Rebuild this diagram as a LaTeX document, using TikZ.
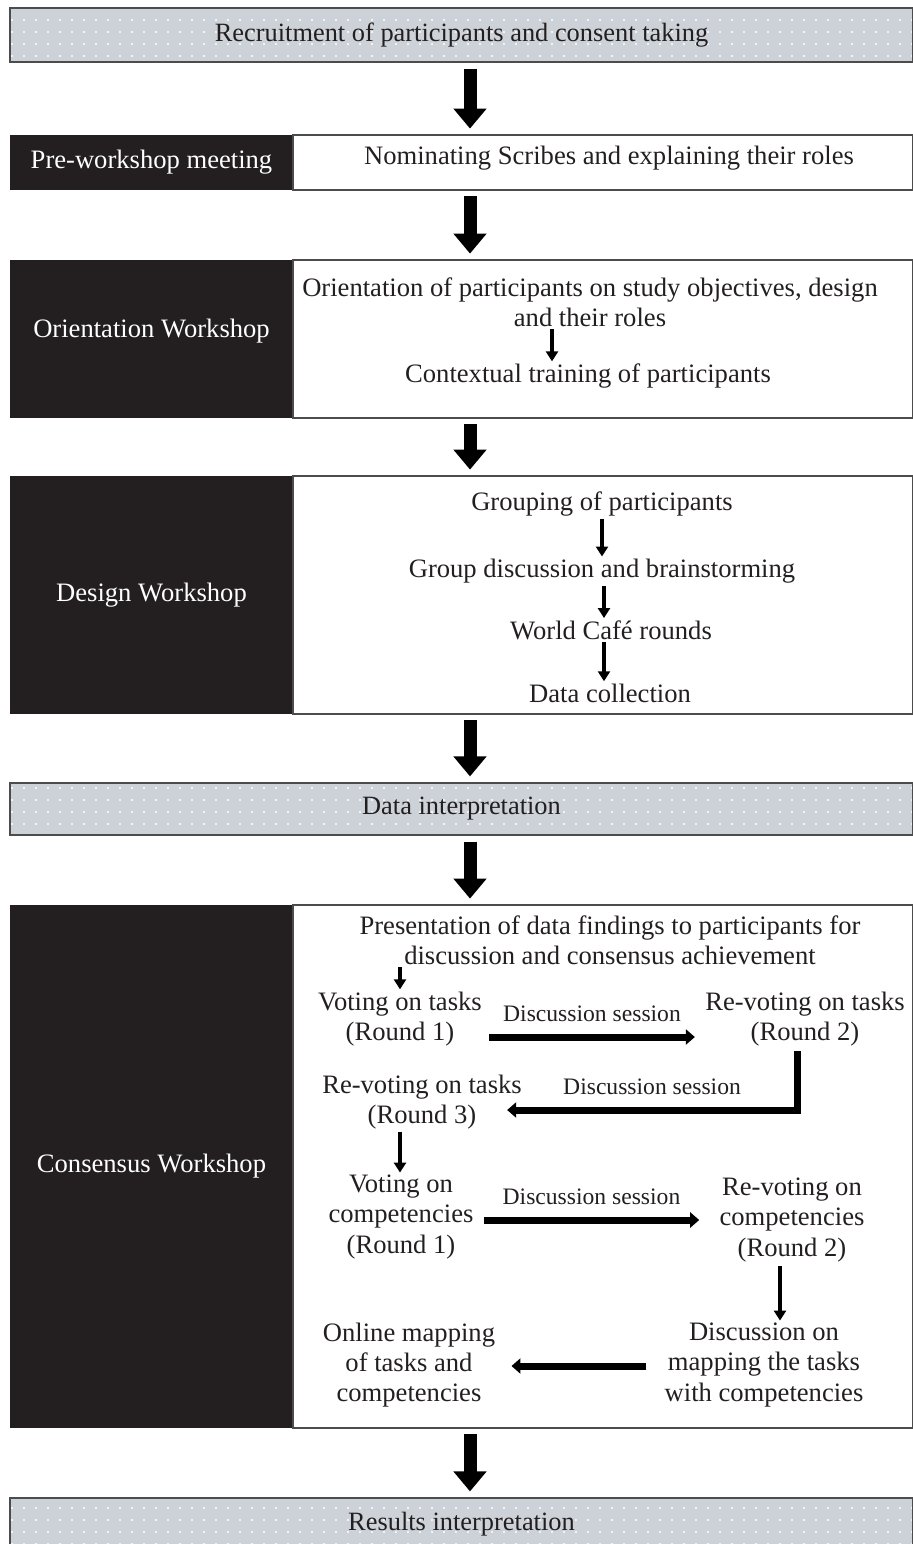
\documentclass[tikz,border=0pt]{standalone}
\usepackage{fontspec}
\setmainfont{Liberation Serif}
\usetikzlibrary{positioning,calc,arrows.meta,patterns.meta}
\definecolor{bannergray}{RGB}{204,210,216}
\definecolor{inkblack}{RGB}{35,31,32}

\begin{document}
\begin{tikzpicture}[x=0.5pt,y=-0.5pt,
    txt/.style={font=\fontsize{13.3}{15.2}\selectfont, text=inkblack, align=center, inner sep=1pt},
    small/.style={font=\fontsize{11.8}{13}\selectfont, text=inkblack, inner sep=1pt},
    banner/.style={draw=black!70, line width=0.6pt, preaction={fill=bannergray},
      pattern={Dots[distance=6pt,radius=0.55pt]}, pattern color=white,
      minimum width=451.5pt, font=\fontsize{13.2}{15}\selectfont, text=inkblack},
    stage/.style={fill=inkblack, text=white, minimum width=141.5pt, inner sep=0pt,
      font=\fontsize{13.3}{15}\selectfont},
    detail/.style={draw=black!70, line width=0.6pt, minimum width=310pt, inner sep=0pt},
    bigarrow/.style={line width=6.5pt, -{Triangle[width=16pt,length=10pt]},
      shorten <=3pt, shorten >=3pt},
    downarrow/.style={line width=2pt, -{Triangle[width=6pt,length=5pt]}},
    sidearrow/.style={line width=3.5pt, -{Triangle[width=7.5pt,length=4.5pt]}}]
    \useasboundingbox (0,0) rectangle (913,1544);
    % Main stages
    \node[banner, minimum height=27pt] (recruit) at (461.5,35)
      {Recruitment of participants and consent taking};
    \node[stage, minimum height=27.5pt] (preL) at (151.5,162.5) {Pre-workshop meeting};
    \node[detail, minimum height=27.5pt] (preR) at (603,162.5) {};
    \node[stage, minimum height=79pt] (oriL) at (151.5,339) {};
    \node[stage] (oriT) at (151.5,331) {Orientation Workshop};
    \node[detail, minimum height=79pt] (oriR) at (603,339) {};
    \node[stage, minimum height=119pt] (desL) at (151.5,595) {Design Workshop};
    \node[detail, minimum height=119pt] (desR) at (603,595) {};
    \node[banner, minimum height=26pt] (interp) at (461.5,809) {Data interpretation};
    \node[stage, minimum height=261.5pt] (conL) at (151.5,1166.5) {Consensus Workshop};
    \node[detail, minimum height=261.5pt] (conR) at (603,1166.5) {};
    \node[banner, minimum height=26pt] (results) at (461.5,1524) {Results interpretation};
    % Arrows between stages
    \coordinate (ax) at (470,0);
    \draw[bigarrow] (recruit.south -| ax) -- (preL.north -| ax);
    \draw[bigarrow] (preL.south -| ax) -- (oriL.north -| ax);
    \draw[bigarrow] (oriL.south -| ax) -- (desL.north -| ax);
    \draw[bigarrow] (desL.south -| ax) -- (interp.north -| ax);
    \draw[bigarrow] (interp.south -| ax) -- (conL.north -| ax);
    \draw[bigarrow] (conL.south -| ax) -- (results.north -| ax);
    % Pre-workshop and orientation
    \node[txt] (p1) at (609,158) {Nominating Scribes and explaining their roles};
    \node[txt] (o1) at (590,302)
      {Orientation of participants on study objectives, design\\and their roles};
    \node[txt] (o2) at (588,376) {Contextual training of participants};
    \draw[downarrow] ($(o1.south)+(-38,0)$) -- ($(o2.north)+(-36,0)$);
    % Design workshop
    \node[txt] (d1) at (602,504) {Grouping of participants};
    \node[txt] (d2) at (602,571) {Group discussion and brainstorming};
    \node[txt] (d3) at (611,630) {World Café rounds};
    \node[txt] (d4) at (610,693) {Data collection};
    \draw[downarrow] ($(d1.south)+(0,0)$) -- ($(d2.north)+(0,0)$);
    \draw[downarrow] ($(d2.south)+(2,0)$) -- ($(d3.north)+(-7,0)$);
    \draw[downarrow] ($(d3.south)+(-7,0)$) -- ($(d4.north)+(-6,0)$);
    % Consensus workshop
    \node[txt] (c1) at (610,940)
      {Presentation of data findings to participants for\\discussion and consensus achievement};
    \node[txt] (c2) at (400,1019) {Voting on tasks\\(Round 1)};
    \node[txt] (c3) at (805,1019) {Re-voting on tasks\\(Round 2)};
    \node[txt] (c4) at (422,1102) {Re-voting on tasks\\(Round 3)};
    \node[txt] (c5) at (401,1217) {Voting on\\competencies\\(Round 1)};
    \node[txt] (c6) at (792,1220) {Re-voting on\\competencies\\(Round 2)};
    \node[txt] (c7) at (764,1365) {Discussion on\\mapping the tasks\\with competencies};
    \node[txt] (c8) at (409,1365) {Online mapping\\of tasks and\\competencies};
    \draw[downarrow] ($(c1.south -| c2.north)$) -- (c2.north);
    \draw[sidearrow] ($(c2.east)+(5,18)$) -- ($(c3.west)+(-8,18)$)
      node[small, midway, above=5pt] {Discussion session};
    \draw[sidearrow] ($(c3.south)+(-8,2)$) |- ($(c4.east)+(-17,8)$)
      node[small, pos=0.75, above=5pt] {Discussion session};
    \draw[downarrow] ($(c4.south)+(-22,0)$) -- ($(c5.north)+(-1,0)$);
    \draw[sidearrow] ($(c5.east)+(8,3)$) -- ($(c6.west)+(-18,0)$)
      node[small, midway, above=5pt] {Discussion session};
    \draw[downarrow] ($(c6.south)+(-12,2)$) -- ($(c7.north)+(16,0)$);
    \draw[sidearrow] ($(c7.west)+(-16,1)$) -- ($(c8.east)+(14,1)$);
\end{tikzpicture}
\end{document}
